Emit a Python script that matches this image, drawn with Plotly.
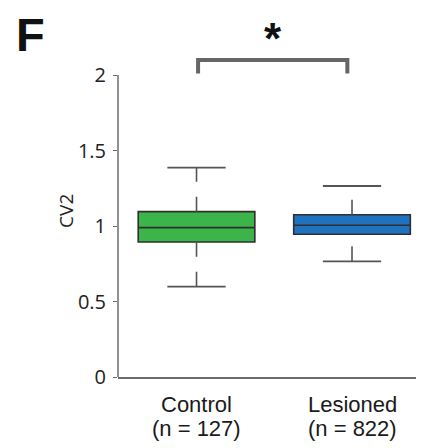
import plotly.graph_objects as go

# ---- data ----
category_names = ["Control", "Lesioned"]
category_counts = ["(n = 127)", "(n = 822)"]
positions = [0, 1]
q1 = [0.894, 0.945]
median = [0.989, 1.005]
q3 = [1.095, 1.075]
lower_whisker = [0.598, 0.766]
upper_whisker = [1.386, 1.265]
box_colors = ["#3BB44A", "#1F73BE"]
yticks = [0, 0.5, 1, 1.5, 2]
yticklabels = ["0", "0.5", "1", "1.5", "2"]
bracket_x = [0.01, 0.97]
bracket_y = [2.01, 2.10]
significance = "*"

fig = go.Figure()

for i in range(len(category_names)):
    c = positions[i]
    # box (whiskers drawn separately, dashed)
    fig.add_trace(go.Box(
        x=[c], q1=[q1[i]], median=[median[i]], q3=[q3[i]],
        lowerfence=[q1[i]], upperfence=[q3[i]],
        width=0.75, whiskerwidth=0,
        fillcolor=box_colors[i],
        line=dict(color="#2f2f2f", width=1.6),
        showlegend=False, hoverinfo="skip", boxpoints=False,
    ))
    # dashed whiskers, drawn from lower to higher value
    for y0, y1 in [(lower_whisker[i], q1[i]), (q3[i], upper_whisker[i])]:
        fig.add_trace(go.Scatter(
            x=[c, c], y=[y0, y1], mode="lines",
            line=dict(color="#555555", width=1.6, dash="15px,15px"),
            showlegend=False, hoverinfo="skip",
        ))
    # caps
    for yv in [lower_whisker[i], upper_whisker[i]]:
        fig.add_trace(go.Scatter(
            x=[c - 0.1875, c + 0.1875], y=[yv, yv], mode="lines",
            line=dict(color="#555555", width=1.8),
            showlegend=False, hoverinfo="skip",
        ))
    # category labels (two tight lines)
    fig.add_annotation(x=c, y=-0.0764, xref="x", yref="paper", text=category_names[i],
                       showarrow=False, xanchor="center", yanchor="middle", borderpad=0,
                       font=dict(family="Liberation Sans, Arial", size=22, color="#1a1a1a"))
    fig.add_annotation(x=c, y=-0.143, xref="x", yref="paper", text=category_counts[i],
                       showarrow=False, xanchor="center", yanchor="middle", borderpad=0,
                       font=dict(family="Liberation Sans, Arial", size=22, color="#1a1a1a"))

# significance bracket
fig.add_trace(go.Scatter(
    x=[bracket_x[0], bracket_x[0], bracket_x[1], bracket_x[1]],
    y=[bracket_y[0], bracket_y[1], bracket_y[1], bracket_y[0]],
    mode="lines", line=dict(color="#666666", width=4),
    showlegend=False, hoverinfo="skip",
))

# page body has an 8px margin, so the figure is drawn 8px smaller
W = 416
H = 440
top = 9
bottom = 71
plot_h = H - top - bottom
ppu = 151.0
ytop = plot_h / ppu

fig.add_annotation(
    x=(bracket_x[0] + bracket_x[1]) / 2, y=2.24, xref="x", yref="y",
    text="<b>" + significance + "</b>", showarrow=False,
    font=dict(family="Liberation Sans, Arial", size=44, color="#111111"),
    xanchor="center", yanchor="middle",
)

fig.add_annotation(
    x=-0.17, y=1.1, xref="paper", yref="y", text="CV2", textangle=-90,
    showarrow=False, xanchor="center", yanchor="middle",
    font=dict(family="Open Sans", size=19, color="#222222"),
)

fig.add_annotation(
    x=-0.335, y=0.952, xref="paper", yref="paper", text="<b>F</b>",
    xanchor="left", yanchor="middle", showarrow=False, borderpad=0,
    font=dict(family="Liberation Sans, Arial", size=47, color="#111111"),
)

# y axis line only from 0 to 2
fig.add_shape(type="line", xref="paper", yref="y", x0=0, x1=0, y0=0, y1=2,
              line=dict(color="#6b6b6b", width=1.5))

fig.update_layout(
    width=W, height=H,
    margin=dict(l=110, r=0, t=top, b=bottom, autoexpand=False),
    paper_bgcolor="white", plot_bgcolor="white",
    xaxis=dict(
        range=[-0.505, 1.463], tickvals=positions, showticklabels=False,
        showgrid=False, zeroline=False, showline=True, linecolor="#6b6b6b",
        linewidth=1.5, ticks="", automargin=False,
    ),
    yaxis=dict(
        range=[0, ytop], tickvals=yticks, ticktext=yticklabels,
        showgrid=False, zeroline=False, showline=False, automargin=False,
        ticks="outside", ticklen=4, tickcolor="#6b6b6b", tickwidth=1.2,
        ticklabelstandoff=3,
        tickfont=dict(family="Open Sans", size=20, color="#222222"),
    ),
)

fig.write_html("out.html")
